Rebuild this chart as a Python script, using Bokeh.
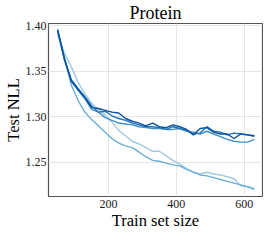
from bokeh.plotting import figure
from bokeh.models import FixedTicker, Range1d
from bokeh.embed import file_html
from bokeh.resources import INLINE

train_size = [50, 70, 90, 110, 130, 150, 170, 190, 210, 230, 250, 270, 290, 310, 330,
              350, 370, 390, 410, 430, 450, 470, 490, 510, 530, 550, 570, 590, 610, 630]

nll_a = [1.390, 1.370, 1.355, 1.338, 1.325, 1.315, 1.308, 1.302, 1.294, 1.285, 1.279, 1.273,
         1.270, 1.266, 1.262, 1.262, 1.257, 1.252, 1.248, 1.243, 1.239, 1.237, 1.239, 1.237,
         1.236, 1.234, 1.232, 1.224, 1.223, 1.220]
nll_b = [1.393, 1.365, 1.335, 1.318, 1.305, 1.297, 1.290, 1.283, 1.276, 1.271, 1.268, 1.266,
         1.261, 1.256, 1.252, 1.251, 1.249, 1.247, 1.246, 1.242, 1.239, 1.236, 1.235, 1.233,
         1.231, 1.229, 1.227, 1.225, 1.223, 1.221]
nll_c = [1.394, 1.362, 1.340, 1.329, 1.320, 1.308, 1.305, 1.299, 1.296, 1.293, 1.292, 1.291,
         1.289, 1.288, 1.287, 1.287, 1.286, 1.286, 1.287, 1.284, 1.283, 1.281, 1.284, 1.281,
         1.278, 1.275, 1.273, 1.272, 1.272, 1.275]
nll_d = [1.395, 1.363, 1.341, 1.331, 1.322, 1.312, 1.305, 1.306, 1.301, 1.298, 1.296, 1.293,
         1.291, 1.289, 1.289, 1.288, 1.286, 1.289, 1.287, 1.285, 1.281, 1.282, 1.289, 1.284,
         1.283, 1.280, 1.282, 1.281, 1.280, 1.2785]
nll_e = [1.396, 1.364, 1.339, 1.330, 1.321, 1.310, 1.309, 1.307, 1.305, 1.304, 1.298, 1.295,
         1.293, 1.290, 1.293, 1.289, 1.288, 1.291, 1.289, 1.286, 1.280, 1.287, 1.288, 1.283,
         1.281, 1.281, 1.276, 1.281, 1.280, 1.279]

series = [nll_a, nll_b, nll_c, nll_d, nll_e]
colors = ["#9ecae1", "#6baed6", "#4292c6", "#2171b5", "#08519c"]

x_ticks = [200, 400, 600]
y_ticks = [1.25, 1.30, 1.35, 1.40]

FONT = "Liberation Serif"

p = figure(width=263, height=232, output_backend="svg", toolbar_location=None,
           x_range=Range1d(23, 654), y_range=Range1d(1.2123, 1.4024),
           title="Protein", min_border_left=2, min_border_right=1,
           min_border_top=1, min_border_bottom=2)

for ys, c in zip(series, colors):
    p.line(train_size, ys, line_color=c, line_width=1.4)

p.title.text_font = FONT
p.title.text_font_size = "18px"
p.title.text_font_style = "normal"
p.title.text_color = "black"
p.title.align = "center"
p.title.standoff = 1
p.title.offset = 0

p.xaxis.ticker = FixedTicker(ticks=x_ticks)
p.yaxis.ticker = FixedTicker(ticks=y_ticks)
p.yaxis.major_label_overrides = {t: f"{t:.2f}" for t in y_ticks}
p.xaxis.axis_label = "Train set size"
p.yaxis.axis_label = "Test NLL"
for ax in (p.xaxis, p.yaxis):
    ax.axis_label_text_font = FONT
    ax.axis_label_text_font_size = "16.5px"
    ax.axis_label_text_font_style = "normal"
    ax.axis_label_text_color = "black"
    ax.axis_label_standoff = 0
    ax.major_label_text_font = FONT
    ax.major_label_text_font_size = "12px"
    ax.major_label_text_color = "#1a1a1a"
    ax.major_label_standoff = 3
    ax.major_tick_out = 0
    ax.major_tick_in = 0
    ax.minor_tick_line_color = None
    ax.axis_line_color = None
p.yaxis.major_label_standoff = 2

p.outline_line_color = "#555555"
p.outline_line_width = 1.2
p.xgrid.grid_line_color = "#e6e6e6"
p.ygrid.grid_line_color = "#e6e6e6"
p.background_fill_color = "white"
p.border_fill_color = "white"

open("out.html", "w").write(file_html(p, INLINE))
